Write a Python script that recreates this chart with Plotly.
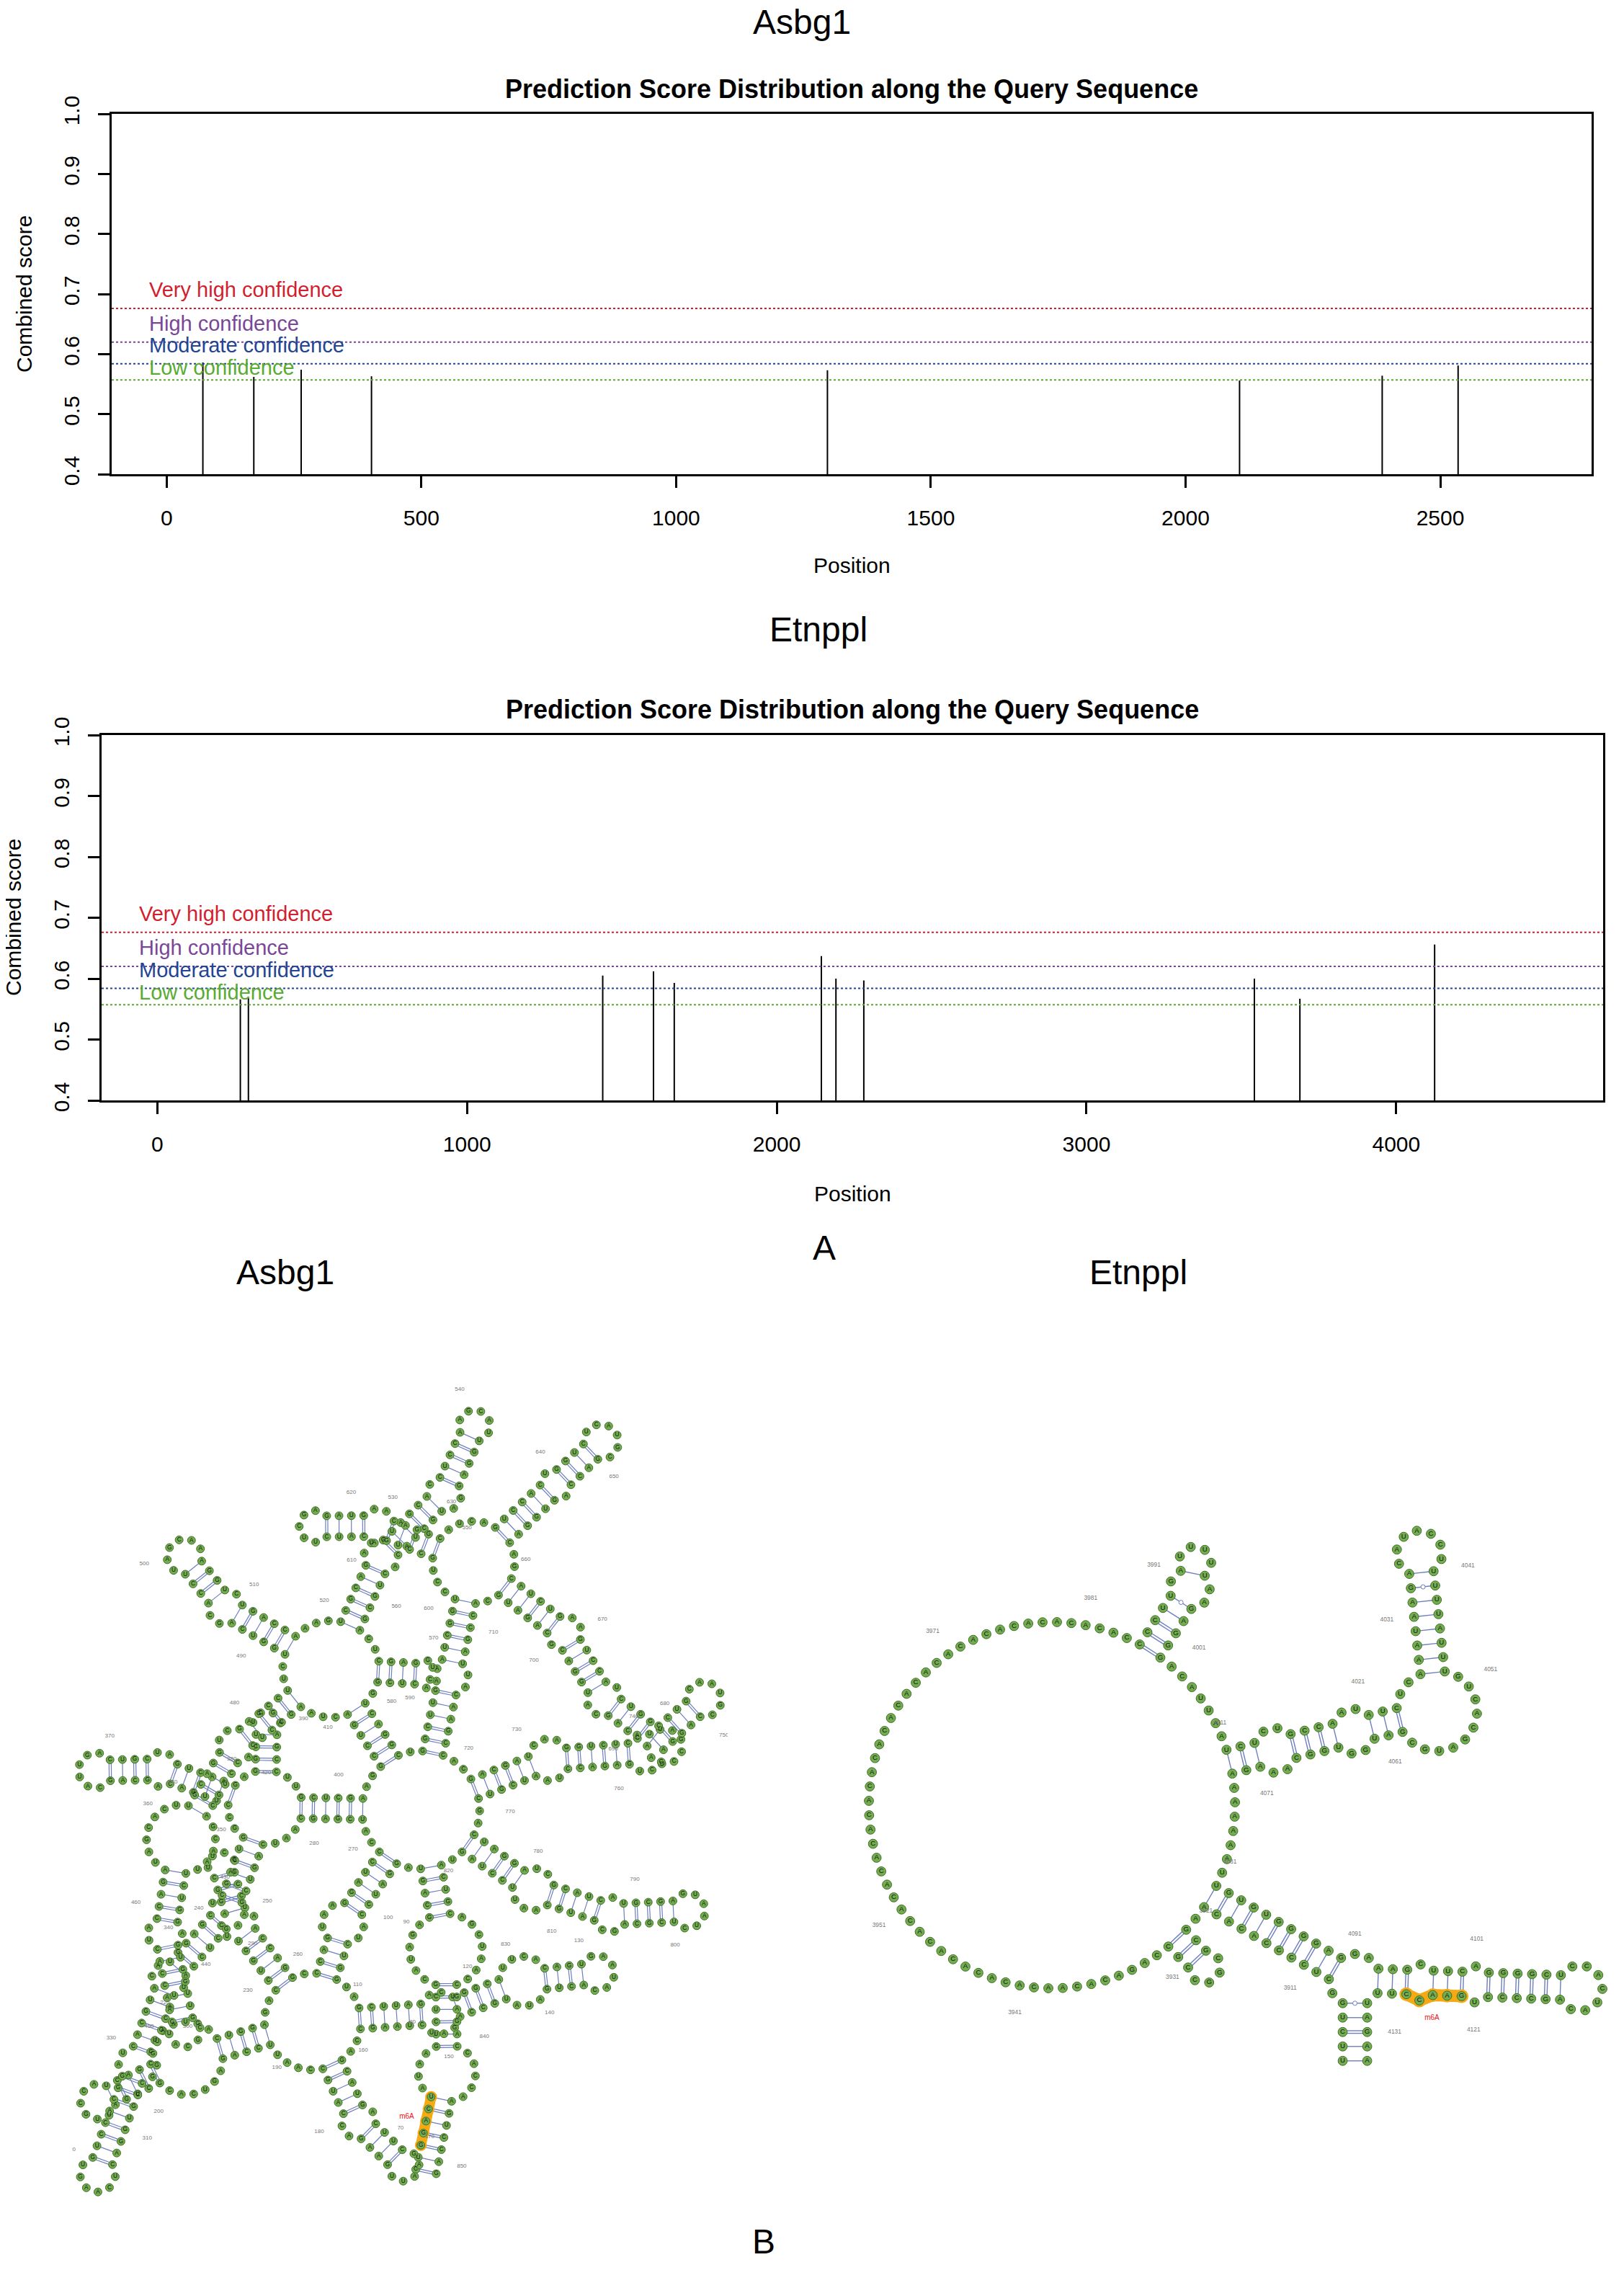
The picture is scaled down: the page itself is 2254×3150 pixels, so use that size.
import numpy as np
import plotly.graph_objects as go

# the html body keeps its default 8 px margin, so the figure is a bit smaller than the page
PAGE_OFF = 8
FIG_W, FIG_H = 2254 - 16, 3150 - 16
FONT = "Liberation Sans"

# ---------------- A: prediction score along the query sequence ----------------
ASB_POS = [71, 171, 264, 402, 1297, 2106, 2386, 2535]
ASB_SCORE = [0.586, 0.562, 0.574, 0.563, 0.573, 0.556, 0.564, 0.581]
ETN_POS = [268, 294, 1438, 1602, 1669, 2144, 2191, 2281, 3542, 3689, 4124]
ETN_SCORE = [0.566, 0.568, 0.605, 0.612, 0.593, 0.637, 0.600, 0.597, 0.600, 0.567, 0.656]

LEVEL_NAMES = ["Very high confidence", "High confidence", "Moderate confidence", "Low confidence"]
LEVEL_SCORES = [0.676, 0.620, 0.584, 0.557]
LEVEL_COLORS = ["#d11f2f", "#7a4699", "#234593", "#5aab32"]

Y_TICKS = [0.4, 0.5, 0.6, 0.7, 0.8, 0.9, 1.0]
ASB_XTICKS = [0, 500, 1000, 1500, 2000, 2500]
ETN_XTICKS = [0, 1000, 2000, 3000, 4000]

# ---------------- B: predicted secondary structure around the top site ----------------
ASB_START, ASB_SITE, ASB_LABEL_END = 67, 71, 0
ASB_SEQ = (
    "CUGGACU" "AUAA" "GUCUCG" "CAUAGA" "GCAGU"
    "A"
    "GGAUCC" "AU" "CUGG" "UA"
    "GCUUAG" "AC" "UGGCA" "UUCA" "CAGU" "GAAUAC" "ACUG" "AUA" "UGCCA" "GAU" "CUAAGC"
    "CA"
    "GCAUG" "A" "CUUC" "GAAUU" "GAAG" "AC" "CAUGC"
    "CAAU"
    "UCCAG" "AGUCAC" "GCUGA" "UUGCCA" "UCAGC" "CUAAUGA" "CUGGA"
    "GA"
    "CCUGGU" "UC" "AGGC" "UUCG" "GCCU" "A" "ACCAGG"
    "C" "CCAG" "UAA" "GGAUCC"
    "CA"
    "UCGAGC" "AA" "U"
    "CAGUCG" "AA" "GCUCCA" "U" "UACGUG" "GG" "CCGUGGAC" "UCAAGU" "GUCCACGG" "AU" "CACGUA" "CA" "UGGAGC" "U" "CGACUG"
    "GC"
    "CUUGAC" "A" "GCAG" "CAUUGA" "CUGC" "UA" "GUCAAG"
    "A"
    "GGCU" "UCGA" "AGCC"
    "UU" "GCUCGA"
    "AG"
    "GCCUGA" "CU" "A"
    "AGGCUC" "A" "CCUGCA" "GCAAU" "UCUGG" "A" "GUGGUUG" "CGCAU" "CAACCAC" "UA" "CCAGA" "UAGCACU" "UGCAGG" "UC" "GAGCCU"
    "UC"
    "UGGUCA" "GC" "ACCU" "UAGCAA" "AGGU" "C" "UGACCA"
    "AAG"
    "UCGCAG" "AU" "GUAGCA" "C" "CUCCA" "AGCAU" "UGGAG" "GA" "UGCUAC" "A" "CUGCGA"
    "CU"
    "CGAG" "GAAA" "CUCG"
    "G" "UCAGGC"
    "U"
    "GGCUUG" "CU" "AUCGGU" "CC" "U"
    "GCCUG" "A" "CAUC" "UUCGA" "GAUG" "AA" "CAGGC"
    "AUCA"
    "GUCCAC" "U" "GGUC" "UCAUGC" "GACC" "A" "GUGGAC"
    "AG"
    "CAUCUG" "AA" "GUCCA" "U" "CUGGU" "AGCCUA" "ACCAG" "CA" "UGGAC" "G" "CAGAUG"
    "C" "ACCGAU" "UA" "CAAGCC"
    "AC"
    "GACGAU" "CAA" "GGUCUC" "A" "UCCUG" "CAAUGC" "CAGGA" "GCU" "GAGACC" "UA" "AUCGUC"
    "GA"
    "CUAGGA" "UC" "GCAUC" "A" "UGCGA" "GUAAUC" "UCGCA" "GC" "GAUGC" "AAU" "UCCUAG"
    "U"
    "ACUGC" "AGCUAAC" "CGAGAC" "CACCA" "AGUCCAG"
)
ASB_DB = (
    "(((((((" "...." "((((((" "......" "((((("
    "."
    "((((((" ".." "((((" ".."
    "((((((" ".." "(((((" "...." "((((" "......" "))))" "..." ")))))" "..." "))))))"
    ".."
    "(((((" "." "((((" "....." "))))" ".." ")))))"
    "...."
    "(((((" "......" "(((((" "......" ")))))" "......." ")))))"
    ".."
    "((((((" ".." "((((" "...." "))))" "." "))))))"
    "." "))))" "..." "))))))"
    ".."
    "((((((" ".." "."
    "((((((" ".." "((((((" "." "((((((" ".." "((((((((" "......" "))))))))" ".." "))))))" ".." "))))))" "." "))))))"
    ".."
    "((((((" "." "((((" "......" "))))" ".." "))))))"
    "."
    "((((" "...." "))))"
    ".." "))))))"
    ".."
    "((((((" ".." "."
    "((((((" "." "((((((" "....." "(((((" "." "(((((((" "....." ")))))))" ".." ")))))" "......." "))))))" ".." "))))))"
    ".."
    "((((((" ".." "((((" "......" "))))" "." "))))))"
    "..."
    "((((((" ".." "((((((" "." "(((((" "....." ")))))" ".." "))))))" "." "))))))"
    ".."
    "((((" "...." "))))"
    "." "))))))"
    "."
    "((((((" ".." "((((((" ".." "."
    "(((((" "." "((((" "....." "))))" ".." ")))))"
    "...."
    "((((((" "." "((((" "......" "))))" "." "))))))"
    ".."
    "((((((" ".." "(((((" "." "(((((" "......" ")))))" ".." ")))))" "." "))))))"
    "." "))))))" ".." "))))))"
    ".."
    "((((((" "..." "((((((" "." "(((((" "......" ")))))" "..." "))))))" ".." "))))))"
    ".."
    "((((((" ".." "(((((" "." "(((((" "......" ")))))" ".." ")))))" "..." "))))))"
    "."
    ")))))" "......." "))))))" "....." ")))))))"
)

ETN_START, ETN_SITE, ETN_LABEL_END = 3903, 4124, 1
ETN_SEQ = (
    "UUCUG"
    "G"
    "CUCCCCACACA"
    "A"
    "GCG" "CGGC" "CGC"
    "CAGACACAA" "CACACACAC" "ACACACACA" "CACACACAC" "ACACACACA" "CACACACAC"
    "CCCUU" "G" "A" "UUUU" "U" "AA" "GAGGG"
    "ACAUUAA"
    "UCU" "CU" "GCCA" "AU" "AUC" "UC" "AAAUAAGA" "CAUACCU" "UUUUAUUU" "GUCACGAUGC" "GAU" "GG" "UGGC" "AA" "AGA"
    "AAAAAAU"
    "UGUGUGGGGAG"
    "GA"
    "AAG" "C" "UUC" "A" "GGGGCU" "CCACUAC" "AGCCCC" "U" "GAA" "C" "CUU"
    "UAGAA"
)
ETN_DB = (
    "((((("
    "."
    "((((((((((("
    "."
    "(((" "...." ")))"
    "........." "........." "........." "........." "........." "........."
    "(((((" "." "(" "...." ")" ".." ")))))"
    "......."
    "(((" ".." "((((" ".." "(((" ".." "((((((((" "......." "))))))))" ".........." ")))" ".." "))))" ".." ")))"
    "......."
    ")))))))))))"
    ".."
    "(((" "." "(((" "." "((((((" "......." "))))))" "." ")))" "." ")))"
    ")))))"
)


def fx(x):
    return (x - PAGE_OFF) / FIG_W


def fy(y):
    return 1 - (y - PAGE_OFF) / FIG_H


def pair_table(db):
    pt = [-1] * len(db)
    st = []
    for i, c in enumerate(db):
        if c == "(":
            st.append(i)
        elif c == ")":
            j = st.pop()
            pt[i], pt[j] = j, i
    assert not st
    return pt


def radiate(pt, bb=1.0, bp=1.7):
    # loops drawn as circles, stems as straight ladders going outward
    n = len(pt)
    pos = np.zeros((n, 2))
    out = np.zeros((n, 2))

    def loop(i, j, up):
        nodes, chords = [i], []
        k = i
        while k != j:
            if k != i and pt[k] > k:
                nxt, ln = pt[k], bp
            else:
                nxt, ln = k + 1, bb
            nodes.append(nxt)
            chords.append(ln)
            k = nxt
        chords.append(bp)
        chords = np.array(chords)

        def ang(r):
            return 2 * np.arcsin(np.minimum(1.0, chords / (2 * r)))

        lo, hi = chords.max() / 2, chords.sum()
        for _ in range(80):
            r = (lo + hi) / 2
            if ang(r).sum() > 2 * np.pi:
                lo = r
            else:
                hi = r
        th = ang(r)
        mid = (pos[i] + pos[j]) / 2
        c = mid + up * np.sqrt(max(r * r - (bp / 2) ** 2, 0))
        a = np.arctan2(pos[i][1] - c[1], pos[i][0] - c[0])
        for q in range(1, len(nodes) - 1):
            a -= th[q - 1]
            pos[nodes[q]] = c + r * np.array([np.cos(a), np.sin(a)])
        for q in range(1, len(nodes) - 1):
            k = nodes[q]
            if pt[k] < 0:
                out[k] = pos[k] - c
        for q in range(1, len(nodes) - 1):
            k = nodes[q]
            if pt[k] > k:
                stem(k, pt[k])

    def stem(i, j):
        d = pos[j] - pos[i]
        d = d / np.linalg.norm(d)
        up = np.array([-d[1], d[0]])
        while pt[i + 1] == j - 1:
            pos[i + 1] = pos[i] + up * bb
            pos[j - 1] = pos[j] + up * bb
            i += 1
            j -= 1
        loop(i, j, up)

    a = 0
    while pt[a] < 0:
        a += 1
    b = pt[a]
    pos[a] = (0, 0)
    pos[b] = (bp, 0)
    for t in range(1, a + 1):
        pos[a - t] = (0, -t * bb)
        out[a - t] = (-1, 0)
    for t in range(1, n - b):
        pos[b + t] = (bp, -t * bb)
        out[b + t] = (1, 0)
    stem(a, b)
    for k in range(n):
        if pt[k] >= 0:
            out[k] = pos[k] - pos[pt[k]]
    out /= np.linalg.norm(out, axis=1, keepdims=True)
    return pos, out


def score_panel(fig, k, pos, score, xr, xticks, box, text_x):
    x0, y0, x1, y1 = box
    xa, ya = ("x", "y") if k == 1 else ("x%d" % k, "y%d" % k)
    xs, ys = [], []
    for p, s in zip(pos, score):
        xs += [p, p, None]
        ys += [0.4, s, None]
    fig.add_trace(go.Scatter(x=xs, y=ys, mode="lines", line=dict(color="black", width=2),
                             xaxis=xa, yaxis=ya, hoverinfo="skip"))
    for name, v, col, sh in zip(LEVEL_NAMES, LEVEL_SCORES, LEVEL_COLORS, [8, 8, 8, -1]):
        fig.add_trace(go.Scatter(x=list(xr), y=[v, v], mode="lines",
                                 line=dict(color=col, width=2, dash="3px,3px"),
                                 xaxis=xa, yaxis=ya, hoverinfo="skip"))
        fig.add_annotation(x=text_x, y=v, xref=xa, yref=ya, text=name, showarrow=False,
                           xanchor="left", yanchor="bottom", yshift=sh,
                           font=dict(family=FONT, size=29, color=col))
    ax = dict(showline=True, mirror=True, linecolor="black", linewidth=2.5, ticks="outside",
              ticklen=16, tickwidth=2.5, tickcolor="black", showgrid=False, zeroline=False,
              automargin=False, tickfont=dict(family=FONT, size=30, color="black"))
    fig.layout["xaxis" if k == 1 else "xaxis%d" % k] = dict(
        ax, domain=[fx(x0), fx(x1)], range=xr, tickvals=xticks, anchor=ya, ticklabelstandoff=16)
    fig.layout["yaxis" if k == 1 else "yaxis%d" % k] = dict(
        ax, domain=[fy(y1), fy(y0)], range=[0.4, 1.0], tickvals=Y_TICKS,
        ticktext=["%.1f" % t for t in Y_TICKS], tickangle=-90, anchor=xa, ticklabelstandoff=14)


def rna_panel(fig, k, seq, db, start, site, label_end, rot, region):
    pt = pair_table(db)
    assert len(seq) == len(db)
    pos, out = radiate(pt)
    a = np.radians(rot)
    rm = np.array([[np.cos(a), -np.sin(a)], [np.sin(a), np.cos(a)]])
    pos = pos @ rm.T
    out = out @ rm.T
    x0, y0, x1, y1 = region
    lo, hi = pos.min(0) - 0.6, pos.max(0) + 0.6
    s = min((x1 - x0) / (hi[0] - lo[0]), (y1 - y0) / (hi[1] - lo[1]))
    cx, cy = (lo + hi) / 2
    xa, ya = "x%d" % k, "y%d" % k
    fig.layout["xaxis%d" % k] = dict(domain=[fx(x0), fx(x1)], visible=False, anchor=ya,
                                     automargin=False,
                                     range=[cx - (x1 - x0) / 2 / s, cx + (x1 - x0) / 2 / s])
    fig.layout["yaxis%d" % k] = dict(domain=[fy(y1), fy(y0)], visible=False, anchor=xa,
                                     automargin=False,
                                     range=[cy - (y1 - y0) / 2 / s, cy + (y1 - y0) / 2 / s])

    one_x, one_y, two_x, two_y, gu_x, gu_y = [], [], [], [], [], []
    for i in range(len(seq)):
        j = pt[i]
        if j <= i:
            continue
        u = (pos[j] - pos[i]) / np.linalg.norm(pos[j] - pos[i])
        w = np.array([-u[1], u[0]])
        p, q = pos[i] + u * 0.3, pos[j] - u * 0.3
        pair = seq[i] + seq[j]
        if pair in ("GC", "CG"):
            for off in (-0.09, 0.09):
                two_x += [p[0] + w[0] * off, q[0] + w[0] * off, None]
                two_y += [p[1] + w[1] * off, q[1] + w[1] * off, None]
        else:
            one_x += [p[0], q[0], None]
            one_y += [p[1], q[1], None]
            if pair in ("GU", "UG"):
                m = (pos[i] + pos[j]) / 2
                gu_x.append(m[0])
                gu_y.append(m[1])
    bond = "#6f7fbf"
    fig.add_trace(go.Scatter(x=one_x + two_x, y=one_y + two_y, mode="lines",
                             line=dict(color=bond, width=max(1, 0.07 * s)),
                             xaxis=xa, yaxis=ya, hoverinfo="skip"))
    fig.add_trace(go.Scatter(x=gu_x, y=gu_y, mode="markers", xaxis=xa, yaxis=ya, hoverinfo="skip",
                             marker=dict(size=0.3 * s, color="white", line=dict(color=bond, width=1))))

    hl = [site - start + d for d in (-2, -1, 0, 1, 2)]
    fig.add_trace(go.Scatter(x=pos[hl, 0], y=pos[hl, 1], mode="lines+markers", xaxis=xa, yaxis=ya,
                             line=dict(color="#f5aa14", width=0.85 * s),
                             marker=dict(size=0.95 * s, color="#f5aa14"), hoverinfo="skip"))

    fig.add_trace(go.Scatter(x=pos[:, 0], y=pos[:, 1], mode="markers+text", text=list(seq),
                             textposition="middle center", xaxis=xa, yaxis=ya, hoverinfo="skip",
                             textfont=dict(family=FONT, size=0.48 * s, color="#111111"),
                             marker=dict(size=0.64 * s, color="#74ad50",
                                         line=dict(color="#3d7028", width=1))))

    lab = [i for i in range(len(seq)) if (start + i) % 10 == label_end]
    lp = pos[lab] + out[lab] * 1.9
    fig.add_trace(go.Scatter(x=lp[:, 0], y=lp[:, 1], mode="text", xaxis=xa, yaxis=ya,
                             text=[str(start + i) for i in lab], hoverinfo="skip",
                             textfont=dict(family=FONT, size=max(8, 0.42 * s), color="#777777")))
    mp = pos[site - start] + out[site - start] * 1.6
    fig.add_trace(go.Scatter(x=[mp[0]], y=[mp[1]], mode="text", text=["m6A"], xaxis=xa, yaxis=ya,
                             textfont=dict(family=FONT, size=max(10, 0.5 * s), color="#e8141c"),
                             hoverinfo="skip"))


fig = go.Figure()
score_panel(fig, 1, ASB_POS, ASB_SCORE, [-108, 2797], ASB_XTICKS, (155, 158, 2209, 658), -37)
score_panel(fig, 2, ETN_POS, ETN_SCORE, [-180, 4668], ETN_XTICKS, (141, 1020, 2225, 1527), -64)
rna_panel(fig, 3, ASB_SEQ, ASB_DB, ASB_START, ASB_SITE, ASB_LABEL_END, -12, (100, 1870, 1010, 3130))
rna_panel(fig, 4, ETN_SEQ, ETN_DB, ETN_START, ETN_SITE, ETN_LABEL_END, 0, (1194, 2064, 2236, 2920))


def text(x, y, s, size, bold=False, angle=0):
    fig.add_annotation(x=fx(x), y=fy(y), xref="paper", yref="paper", showarrow=False,
                       text="<b>%s</b>" % s if bold else s, textangle=angle,
                       xanchor="center", yanchor="middle",
                       font=dict(family=FONT, size=size, color="black"))


text(1113, 31, "Asbg1", 48)
text(1182, 124, "Prediction Score Distribution along the Query Sequence", 36, bold=True)
text(1182, 784, "Position", 30)
text(33, 408, "Combined score", 30, angle=-90)
text(1136, 873, "Etnppl", 48)
text(1183, 984, "Prediction Score Distribution along the Query Sequence", 36, bold=True)
text(1183, 1656, "Position", 30)
text(18, 1273, "Combined score", 30, angle=-90)
text(1144, 1731, "A", 48)
text(396, 1765, "Asbg1", 48)
text(1580, 1765, "Etnppl", 48)
text(1060, 3110, "B", 48)

fig.update_layout(width=FIG_W, height=FIG_H, margin=dict(l=0, r=0, t=0, b=0, autoexpand=False),
                  paper_bgcolor="white", plot_bgcolor="white", showlegend=False)
fig.write_html("out.html")
